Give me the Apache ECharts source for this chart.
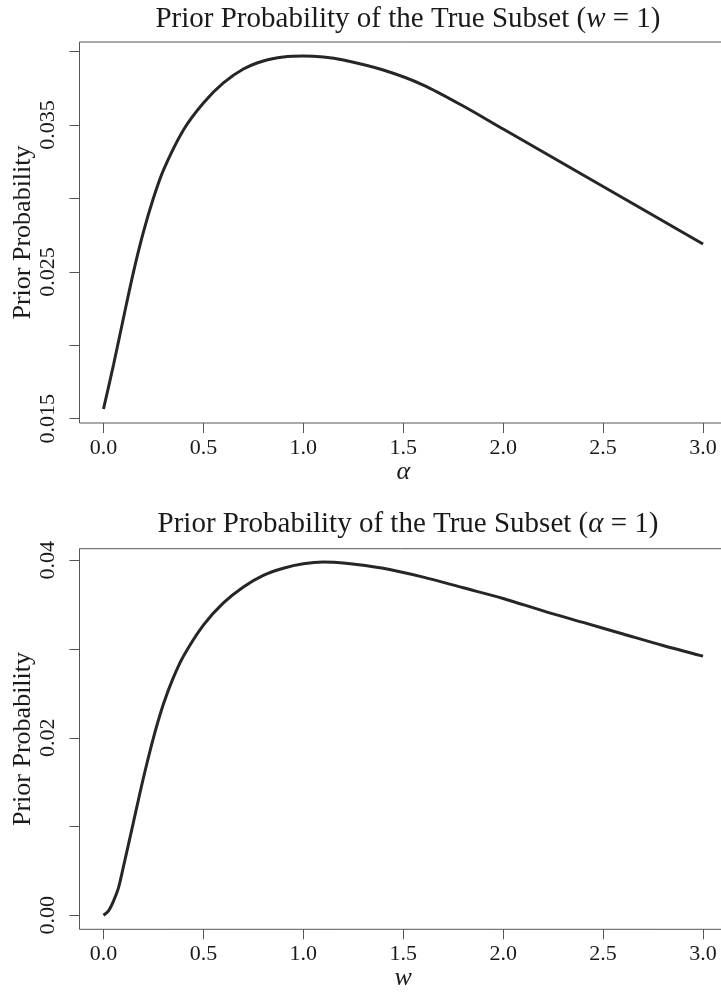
<!DOCTYPE html>
<html>
<head>
<meta charset="utf-8">
<script src="https://cdn.jsdelivr.net/npm/echarts@6/dist/echarts.min.js"></script>
<style>
  html, body { margin: 0; padding: 0; background: #fff; }
  #chart { width: 721px; height: 994px; }
</style>
</head>
<body>
<div id="chart"></div>
<script>
// Prior probability of the true subset as a function of alpha (w = 1)
const alphaValues = [0, 0.05, 0.1, 0.15, 0.2, 0.25, 0.3, 0.4, 0.5, 0.6, 0.7, 0.8, 0.9, 1.0,
                     1.1, 1.2, 1.4, 1.6, 1.8, 2.0, 2.2, 2.4, 2.6, 2.8, 3.0];
const priorByAlpha = [0.01566, 0.01866, 0.02186, 0.02499, 0.02772, 0.03003, 0.03194, 0.03467,
                      0.03651, 0.03787, 0.03882, 0.03937, 0.03964, 0.03971, 0.03964, 0.03943,
                      0.03875, 0.03773, 0.03630, 0.03473, 0.03317, 0.03160, 0.03003, 0.02847, 0.02690];

// Prior probability of the true subset as a function of w (alpha = 1)
const wValues = [0, 0.025, 0.05, 0.075, 0.1, 0.15, 0.2, 0.25, 0.3, 0.35, 0.4, 0.5, 0.6, 0.7,
                 0.8, 0.9, 1.0, 1.1, 1.2, 1.4, 1.6, 1.8, 2.0, 2.2, 2.4, 2.6, 2.8, 3.0];
const priorByW = [0, 0.0005, 0.0016, 0.0031, 0.0055, 0.0105, 0.0155, 0.0200, 0.0238, 0.0268,
                  0.0292, 0.0327, 0.0352, 0.0370, 0.0383, 0.0391, 0.0396, 0.0398, 0.0397,
                  0.0391, 0.0381, 0.0369, 0.0357, 0.0343, 0.0330, 0.0317, 0.0304, 0.0292];

// Tick positions and labelled ticks
const xTicks = [0, 0.5, 1.0, 1.5, 2.0, 2.5, 3.0];
const yTicksTop = [0.015, 0.020, 0.025, 0.030, 0.035, 0.040];
const yLabelsTop = [0.015, 0.025, 0.035];
const yTicksBottom = [0, 0.01, 0.02, 0.03, 0.04];
const yLabelsBottom = [0, 0.02, 0.04];

const FONT = '"Liberation Serif", "DejaVu Serif", serif';
const INK = '#1a1a1a';
const FRAME = '#555';

function pairs(xs, ys) { return xs.map((x, i) => [x, ys[i]]); }

function xAxisDef(gridIndex, nameText) {
  return {
    type: 'value', gridIndex, position: 'bottom',
    min: -0.12, max: 3.12,
    name: nameText, nameLocation: 'middle', nameGap: 36, nameMoveOverlap: false,
    nameTextStyle: { fontFamily: FONT, fontSize: 26, color: INK, fontStyle: 'italic' },
    axisLine: { show: false, onZero: false },
    splitLine: { show: false },
    axisTick: { show: true, inside: false, length: 10, customValues: xTicks,
                lineStyle: { color: FRAME, width: 1 } },
    axisLabel: { customValues: xTicks, margin: 14, fontFamily: FONT, fontSize: 22, color: INK,
                 formatter: v => v.toFixed(1) }
  };
}

function yAxisDef(gridIndex, min, max, ticks, labels, digits) {
  return {
    type: 'value', gridIndex, min, max, position: 'left',
    name: 'Prior Probability', nameLocation: 'middle', nameGap: 43, nameRotate: 90,
    nameMoveOverlap: false,
    nameTextStyle: { fontFamily: FONT, fontSize: 26, color: INK },
    axisLine: { show: false, onZero: false },
    splitLine: { show: false },
    axisTick: { show: true, inside: false, length: 10, customValues: ticks,
                lineStyle: { color: FRAME, width: 1 } },
    axisLabel: { customValues: labels, rotate: 90, margin: 20, fontFamily: FONT, fontSize: 22,
                 color: INK, formatter: v => v.toFixed(digits) }
  };
}

function titleDef(top, sym) {
  return {
    text: '{n|Prior Probability of the True Subset (}{i|' + sym + '}{n| = 1)}',
    left: 403, top, textAlign: 'center',
    textStyle: {
      fontWeight: 'normal',
      rich: {
        n: { fontFamily: FONT, fontSize: 29, color: INK, fontWeight: 'normal' },
        i: { fontFamily: FONT, fontSize: 29, color: INK, fontWeight: 'normal', fontStyle: 'italic' }
      }
    }
  };
}

const chart = echarts.init(document.getElementById('chart'), null, { renderer: 'canvas' });
chart.setOption({
  animation: false,
  backgroundColor: '#fff',
  title: [titleDef(0, 'w'), titleDef(505, 'α')],
  grid: [
    { left: 79.5, top: 42, width: 647.5, height: 381, show: true, outerBoundsMode: 'none',
      containLabel: false, borderColor: FRAME, borderWidth: 1, backgroundColor: 'transparent' },
    { left: 79.5, top: 548.7, width: 647.5, height: 380.6, show: true, outerBoundsMode: 'none',
      containLabel: false, borderColor: FRAME, borderWidth: 1, backgroundColor: 'transparent' }
  ],
  xAxis: [xAxisDef(0, 'α'), xAxisDef(1, 'w')],
  yAxis: [
    yAxisDef(0, 0.014707, 0.040661, yTicksTop, yLabelsTop, 3),
    yAxisDef(1, -0.001577, 0.041307, yTicksBottom, yLabelsBottom, 2)
  ],
  series: [
    { type: 'line', xAxisIndex: 0, yAxisIndex: 0, data: pairs(alphaValues, priorByAlpha),
      showSymbol: false, smooth: 0.3, lineStyle: { color: '#262626', width: 3 } },
    { type: 'line', xAxisIndex: 1, yAxisIndex: 1, data: pairs(wValues, priorByW),
      showSymbol: false, smooth: 0.3, lineStyle: { color: '#262626', width: 3 } }
  ]
});
</script>
</body>
</html>
